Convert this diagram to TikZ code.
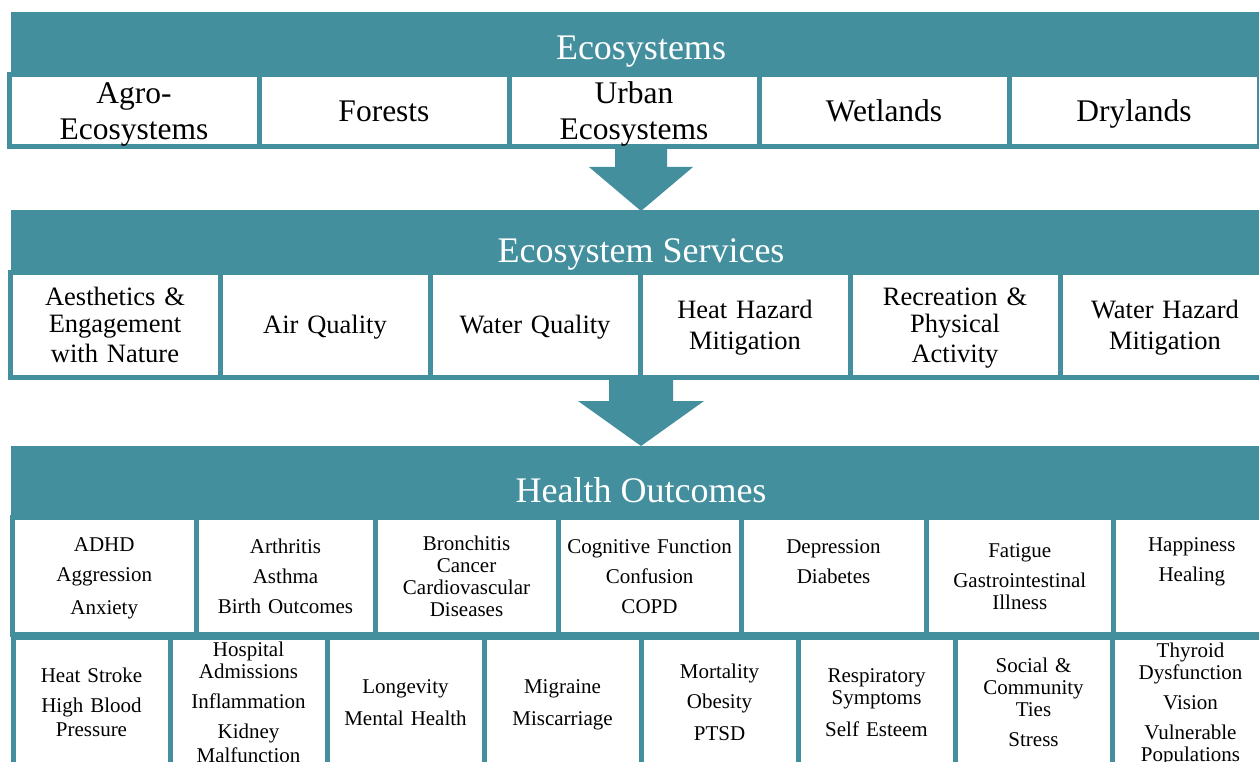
\documentclass[tikz,border=0pt]{standalone}
\usepackage{fontspec}
\setmainfont{Liberation Serif}
\definecolor{panel}{RGB}{67,143,158}
\newcommand\wordstrut{\rule[-0.216em]{0pt}{1.107em}}

\begin{document}
\begin{tikzpicture}
  [x=1pt,y=-1pt,
   banner/.style={rectangle,fill=panel,inner sep=0pt,minimum width=1259pt},
   heading/.style={text=white,anchor=base,inner sep=0pt,font=\fontsize{36}{40}\selectfont},
   cell/.style={rectangle,draw=panel,line width=5pt,fill=white,align=center,inner sep=0pt,
     execute at begin node=\wordstrut,execute at end node=\wordstrut},
   ecocell/.style={cell,minimum width=250pt,minimum height=72pt,text width=240pt,
     font=\fontsize{31.5}{32}\selectfont},
   servcell/.style={cell,minimum width=210pt,minimum height=105pt,text width=200pt,
     font=\fontsize{26.5}{27}\selectfont},
   outcell/.style={cell,minimum width=#1,text width=#1-12pt,minimum height=117pt,
     font=\fontsize{21}{22}\selectfont},
   morecell/.style={cell,minimum width=157pt,minimum height=130pt,text width=149pt,
     font=\fontsize{21}{22}\selectfont}]
  \useasboundingbox (0,0) rectangle (1259,762);
  \clip (0,0) rectangle (1259,762);

  % the three bands
  \node[banner,minimum height=65pt] (ecobar) at (640.5,44.5) {};
  \node[banner,minimum height=65pt] (serbar) at (640.5,242.5) {};
  \node[banner,minimum height=74pt] (outbar) at (640.5,483) {};

  % block arrows between the bands
  \fill[panel] (615,146) -- (667,146) -- (667,167) -- (693,167) -- (641,211)
    -- (589,167) -- (615,167) -- cycle;
  \fill[panel] (609,377) -- (673,377) -- (673,401) -- (704,401) -- (641,446)
    -- (578,401) -- (609,401) -- cycle;

  \foreach \what [count=\i from 0] in {{Agro-\\Ecosystems},Forests,{Urban\\Ecosystems},
      Wetlands,Drylands}
    \node[ecocell] (eco\i) at (134+250*\i,110.5) {\what};

  \foreach \what [count=\i from 0] in {{Aesthetics \&\\Engagement\\with Nature},Air Quality,
      Water Quality,{Heat Hazard\\Mitigation},{Recreation \&\\Physical\\Activity},
      {Water Hazard\\Mitigation}}
    \node[servcell] (ser\i) at (115+210*\i,325) {\what};

  \foreach \cx/\cw/\what [count=\i from 0] in {104.25/183.5/{ADHD\\[8pt]Aggression\\[8pt]Anxiety},
      285.5/179/{Arthritis\\[8pt]Asthma\\[8pt]Birth Outcomes},
      466.5/183/{Bronchitis\\Cancer\\Cardiovascular\\Diseases},
      649.5/183/{Cognitive Function\\[8pt]Confusion\\[8pt]COPD},
      833.5/185/{Depression\\[8pt]Diabetes\\[8pt]\mbox{}},
      1019.75/187.5/{Fatigue\\[8pt]Gastrointestinal\\Illness},
      1191.75/156.5/{Happiness\\[8pt]Healing\\[8pt]\mbox{}}}
    \node[outcell=\cw pt] (out\i) at (\cx,576) {\what};

  \foreach \what [count=\i from 0] in {{Heat Stroke\\[8pt]High Blood\\Pressure},
      {Hospital\\Admissions\\[8pt]Inflammation\\[8pt]Kidney\\Malfunction},
      {Longevity\\[8pt]Mental Health},
      {Migraine\\[8pt]Miscarriage},
      {Mortality\\[8pt]Obesity\\[8pt]PTSD},
      {Respiratory\\Symptoms\\[8pt]Self Esteem},
      {Social \&\\Community\\Ties\\[8pt]Stress},
      {Thyroid\\Dysfunction\\[8pt]Vision\\[8pt]Vulnerable\\Populations}}
    \node[morecell] (more\i) at (91.5+157*\i,702.5) {\what};

  % band titles
  \node[heading] (ecotitle) at (641,60) {Ecosystems};
  \node[heading] (sertitle) at (641,262) {Ecosystem Services};
  \node[heading] (outtitle) at (641,502) {Health Outcomes};

\end{tikzpicture}
\end{document}
